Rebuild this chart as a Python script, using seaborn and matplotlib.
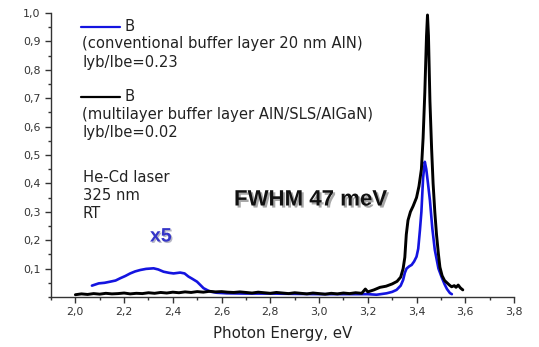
import matplotlib
matplotlib.use("Agg")
import matplotlib.pyplot as plt
import matplotlib.patheffects as pe
from matplotlib.lines import Line2D
from matplotlib.ticker import MultipleLocator, FuncFormatter
import seaborn as sns
import pandas as pd

# ---- data ----
blue_energy = [2.068, 2.096, 2.12, 2.143, 2.165, 2.184, 2.205, 2.225, 2.245, 2.266, 2.29, 2.321,
               2.34, 2.362, 2.385, 2.403, 2.43, 2.448, 2.464, 2.48, 2.499, 2.512, 2.526, 2.553, 2.58,
               2.62, 2.7, 2.8, 2.9, 3.0, 3.1, 3.2, 3.236, 3.277, 3.30, 3.318, 3.335, 3.345, 3.352,
               3.359, 3.37, 3.38, 3.39, 3.40, 3.407, 3.414, 3.42, 3.427, 3.434, 3.44, 3.447, 3.455,
               3.465, 3.475, 3.49, 3.503, 3.515, 3.525, 3.537, 3.545]
blue_intensity = [0.040, 0.048, 0.050, 0.054, 0.058, 0.066, 0.074, 0.083, 0.090, 0.095, 0.099, 0.101,
                  0.097, 0.089, 0.085, 0.083, 0.086, 0.083, 0.072, 0.064, 0.054, 0.043, 0.031, 0.019, 0.015,
                  0.013, 0.012, 0.012, 0.011, 0.010, 0.010, 0.010, 0.008, 0.013, 0.018, 0.025, 0.040, 0.060, 0.085,
                  0.100, 0.108, 0.113, 0.125, 0.142, 0.170, 0.236, 0.300, 0.420, 0.476, 0.450, 0.400, 0.340,
                  0.240, 0.166, 0.100, 0.070, 0.045, 0.028, 0.014, 0.010]

black_energy = [2.0, 2.025, 2.05, 2.075, 2.1, 2.125, 2.15, 2.175, 2.2, 2.225, 2.25, 2.275, 2.3, 2.325,
                2.35, 2.375, 2.4, 2.425, 2.45, 2.475, 2.5, 2.525, 2.55, 2.575, 2.6, 2.625, 2.65, 2.675,
                2.7, 2.725, 2.75, 2.775, 2.8, 2.825, 2.85, 2.875, 2.9, 2.925, 2.95, 2.975, 3.0, 3.025,
                3.05, 3.075, 3.1, 3.125, 3.15, 3.175, 3.19, 3.2, 3.225, 3.25, 3.275, 3.30, 3.32, 3.335,
                3.345, 3.352, 3.358, 3.365, 3.375, 3.386, 3.40, 3.41, 3.42, 3.427, 3.434, 3.441, 3.445,
                3.449, 3.455, 3.462, 3.468, 3.475, 3.482, 3.49, 3.496, 3.505, 3.515, 3.525, 3.535, 3.544,
                3.555, 3.562, 3.571, 3.58, 3.59]
black_intensity = [0.008, 0.011, 0.009, 0.012, 0.010, 0.013, 0.011, 0.012, 0.014, 0.011, 0.013, 0.012,
                   0.015, 0.013, 0.016, 0.014, 0.017, 0.015, 0.018, 0.016, 0.019, 0.017, 0.020, 0.018,
                   0.019, 0.017, 0.016, 0.018, 0.016, 0.014, 0.017, 0.015, 0.013, 0.016, 0.014, 0.012,
                   0.015, 0.013, 0.011, 0.014, 0.012, 0.010, 0.013, 0.011, 0.014, 0.012, 0.015, 0.013,
                   0.028, 0.018, 0.025, 0.034, 0.038, 0.046, 0.055, 0.070, 0.100, 0.140, 0.220, 0.270,
                   0.300, 0.320, 0.350, 0.390, 0.450, 0.560, 0.720, 0.920, 0.993, 0.920, 0.690, 0.520,
                   0.400, 0.300, 0.220, 0.150, 0.105, 0.075, 0.058, 0.050, 0.042, 0.036, 0.040, 0.034,
                   0.042, 0.032, 0.025]

x_ticks = [2.0, 2.2, 2.4, 2.6, 2.8, 3.0, 3.2, 3.4, 3.6, 3.8]
y_ticks = [0.1, 0.2, 0.3, 0.4, 0.5, 0.6, 0.7, 0.8, 0.9, 1.0]

BLUE = "#1414e0"
TXT = "#222222"

sns.set_style("ticks")
plt.rcParams["font.family"] = ["DejaVu Sans"]

fig = plt.figure(figsize=(5.39, 3.47), dpi=100)
ax = fig.add_axes([51 / 539, 50 / 347, 463 / 539, 284 / 347])

df_b = pd.DataFrame({"E": blue_energy, "I": blue_intensity})
df_k = pd.DataFrame({"E": black_energy, "I": black_intensity})
sns.lineplot(data=df_b, x="E", y="I", ax=ax, color=BLUE, lw=1.9, sort=False, estimator=None)
sns.lineplot(data=df_k, x="E", y="I", ax=ax, color="black", lw=2.1, sort=False, estimator=None)

ax.set_xlim(1.9, 3.8)
ax.set_ylim(0, 1.0)
ax.set_xticks(x_ticks)
ax.set_yticks(y_ticks)
ax.xaxis.set_minor_locator(MultipleLocator(0.1))
ax.yaxis.set_minor_locator(MultipleLocator(0.05))
fmt = FuncFormatter(lambda v, p: f"{v:.1f}".replace(".", ","))
ax.xaxis.set_major_formatter(fmt)
ax.yaxis.set_major_formatter(fmt)
ax.tick_params(which="major", length=4.5, width=1, colors="#333333", labelsize=7.9,
               direction="out", pad=3)
ax.tick_params(which="minor", length=2.5, width=1, colors="#333333", direction="out")
for s in ["left", "bottom"]:
    ax.spines[s].set_color("#333333")
    ax.spines[s].set_linewidth(1)
sns.despine(ax=ax)
ax.set_xlabel("Photon Energy, eV", fontsize=10.8, color=TXT, labelpad=6)
ax.set_ylabel("")

# legend-like annotations
def fx(px):
    return px / 539
def fy(py):
    return 1 - py / 347

FS = 10.6
fig.add_artist(Line2D([fx(81), fx(120)], [fy(26.5), fy(26.5)], color=BLUE, lw=1.6))
fig.text(fx(124), fy(26.5), "B", fontsize=FS, color=TXT, va="center")
fig.text(fx(82), fy(43.5), "(conventional buffer layer 20 nm AlN)", fontsize=FS, color=TXT, va="center")
fig.text(fx(82), fy(63), "Iyb/Ibe=0.23", fontsize=FS, color=TXT, va="center")
fig.add_artist(Line2D([fx(81), fx(120)], [fy(96.5), fy(96.5)], color="black", lw=1.6))
fig.text(fx(124), fy(96.5), "B", fontsize=FS, color=TXT, va="center")
fig.text(fx(82), fy(114), "(multilayer buffer layer AlN/SLS/AlGaN)", fontsize=FS, color=TXT, va="center")
fig.text(fx(82), fy(132.5), "Iyb/Ibe=0.02", fontsize=FS, color=TXT, va="center")
fig.text(fx(83), fy(177.5), "He-Cd laser", fontsize=FS, color=TXT, va="center")
fig.text(fx(83), fy(195), "325 nm", fontsize=FS, color=TXT, va="center")
fig.text(fx(83), fy(213), "RT", fontsize=FS, color=TXT, va="center")

bold = ["Liberation Sans", "DejaVu Sans"]
fig.text(fx(150), fy(237), "x5", fontsize=14, fontweight="bold", color="#3535c8",
         family=bold, va="center",
         path_effects=[pe.SimplePatchShadow(offset=(1, -1), alpha=0.3), pe.Normal()])
fig.text(fx(234), fy(200), "FWHM 47 meV", fontsize=16, fontweight="bold", color="#111111",
         family=bold, va="center",
         path_effects=[pe.SimplePatchShadow(offset=(1.5, -1.5), alpha=0.35), pe.Normal()])

fig.savefig("out.png", dpi=100)
